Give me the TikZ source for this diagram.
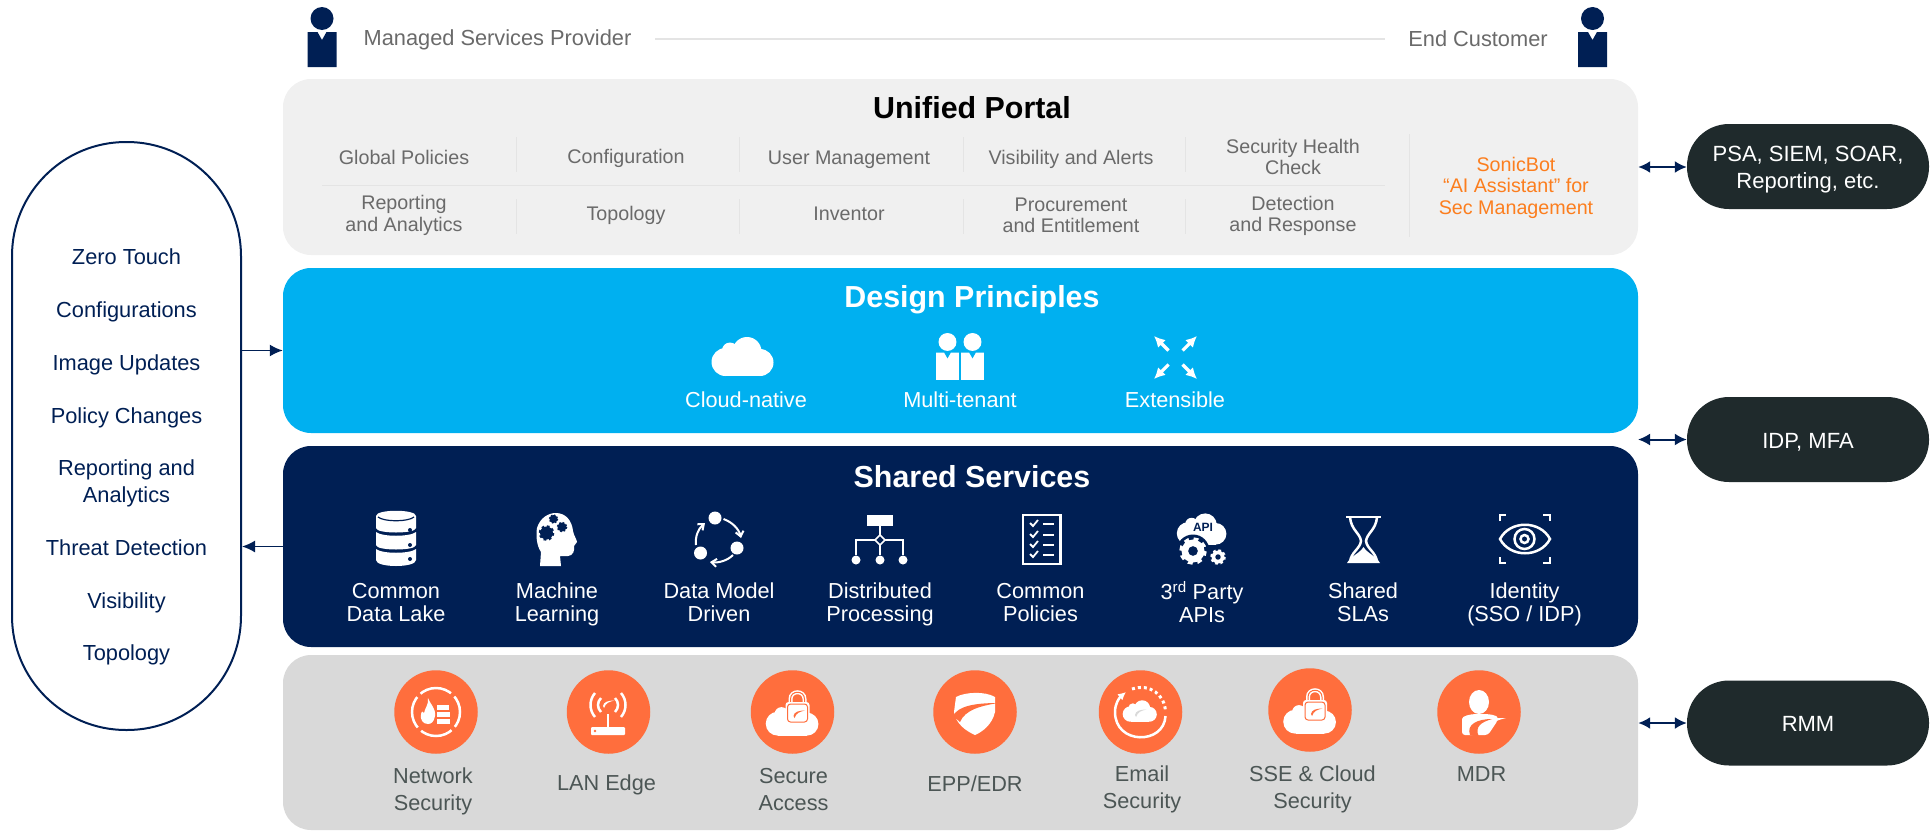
\documentclass[tikz,border=0pt]{standalone}
\usepackage{fontspec}
\setmainfont{Liberation Sans}
\usetikzlibrary{arrows.meta}
\definecolor{navy}{HTML}{001F54}
\definecolor{skyblue}{HTML}{00B0F0}
\definecolor{portalgray}{HTML}{F0F0F0}
\definecolor{edgegray}{HTML}{D9D9D9}
\definecolor{flame}{HTML}{FF6E3D}
\definecolor{pillblack}{HTML}{1F2A2C}
\definecolor{botorange}{HTML}{FC7E1E}
\definecolor{ruleline}{HTML}{E4E4E4}
\definecolor{portaltext}{HTML}{6A6A6A}
\definecolor{edgetext}{HTML}{4C5655}
% Gear: x, y, radius, colour, hole colour
\newcommand{\gearicon}[5]{
    \pgfmathsetmacro{\gearstep}{0.393*#3}
    \fill[#4] (#1,#2) circle (#3);
    \draw[#4, line width=\gearstep pt, dash pattern=on \gearstep pt off \gearstep pt] (#1,#2) circle (#3);
    \fill[#5] (#1,#2) circle (0.42*#3);
}
\begin{document}
\begin{tikzpicture}[
        x=1pt, y=-1pt,
        panel/.style={rounded corners=28pt, inner sep=0pt, minimum width=1355pt},
        pill/.style={fill=pillblack, text=white, rounded corners=42pt, inner sep=0pt, minimum width=242pt, minimum height=85pt, align=center, text height=21pt, font=\fontsize{22}{27}\selectfont},
        title/.style={inner sep=0pt, font=\fontsize{30.4}{34}\selectfont\bfseries},
        toplabel/.style={inner sep=0pt, text=portaltext, font=\fontsize{21.8}{26}\selectfont},
        item/.style={inner sep=0pt, text=portaltext, align=center, font=\fontsize{19.7}{21.5}\selectfont},
        caption/.style={inner sep=0pt, text=white, align=center, font=\fontsize{21.7}{23}\selectfont},
        product/.style={inner sep=0pt, text=edgetext, align=center, font=\fontsize{21.7}{27}\selectfont},
        task/.style={inner sep=0pt, text=navy, align=center, font=\fontsize{21.8}{26.6}\selectfont},
        badge/.style={circle, fill=flame, inner sep=0pt, minimum size=83.5pt},
        sep/.style={draw=ruleline, line width=1pt},
        link/.style={draw=navy, line width=2pt, {Latex[length=12pt,width=12pt]}-{Latex[length=12pt,width=12pt]}},
        feed/.style={draw=navy, line width=1.6pt, -{Latex[length=13pt,width=12pt]}},
        person/.pic={
            \fill[pic actions] (0,11.5) circle (11.5);
            \fill[pic actions] (-14.5,25) -- (-4.5,25) -- (0,33) -- (4.5,25) -- (14.5,25) -- (14.5,60) -- (-14.5,60) -- cycle;
        },
        cloudicon/.pic={
            \fill[pic actions] (-17.5,5.5) circle (14);
            \fill[pic actions] (17,6) circle (13.5);
            \fill[pic actions] (4,-5) circle (14.5);
            \fill[pic actions] (-13,-6) circle (8);
            \fill[pic actions] (-17,5) rectangle (17,19.5);
        },
        swoosh/.pic={
            \fill[pic actions] (-10,4) .. controls (-9,-4) and (0,-7) .. (13,-7) .. controls (3,-5) and (-5,-2) .. (-8,8) -- cycle;
        },
        lockcloud/.pic={
            \pic[fill=white, scale=0.85] at (0,7) {cloudicon};
            \draw[white, line width=4pt] (-2,-9) -- (-2,-13) .. controls (-2,-22) and (12,-22) .. (12,-13) -- (12,-9);
            \draw[flame, line width=1pt] (-2,-9) -- (-2,-13) .. controls (-2,-22) and (12,-22) .. (12,-13) -- (12,-9);
            \fill[white, rounded corners=3pt] (-7,-10) rectangle (17,12);
            \draw[flame, line width=1pt, rounded corners=3pt] (-5,-8) rectangle (15,10);
            \pic[fill=flame, scale=0.5] at (6,2) {swoosh};
        }
    ]
    \useasboundingbox (0,0) rectangle (1932,830);

    % Four stacked panels
    \node[panel, fill=portalgray, minimum height=176pt] (portal) at (960.5,167) {};
    \node[panel, fill=skyblue, minimum height=165pt] (design) at (960.5,350.5) {};
    \node[panel, fill=navy, minimum height=201pt] (shared) at (960.5,546.5) {};
    \node[panel, fill=edgegray, minimum height=175pt] (edge) at (960.5,742.5) {};

    % People and the line between them
    \pic[fill=navy] at (322,7) {person};
    \pic[fill=navy] at (1592.5,7) {person};
    \node[toplabel] (msp) at (497.5,39.5) {Managed Services Provider};
    \node[toplabel] (customer) at (1478,38.5) {End Customer};
    \coordinate (linestart) at (655,39);
    \coordinate (lineend) at (1385,39);
    \draw[draw=ruleline, line width=1.5pt] (linestart) -- (lineend);

    % Unified portal
    \node[title] (portaltitle) at (972,108) {Unified Portal};
    \node[item] (globalpol) at (404,157) {Global Policies};
    \node[item] (config) at (626,158) {Configuration};
    \node[item] (usermgmt) at (849,159.5) {User Management};
    \node[item] (visalerts) at (1071,159) {Visibility and Alerts};
    \node[item] (health) at (1293,157) {Security Health\\Check};
    \node[item] (reporting) at (404,215.5) {Reporting\\and Analytics};
    \node[item] (topology) at (626,215.5) {Topology};
    \node[item] (inventor) at (849,214) {Inventor};
    \node[item] (procure) at (1071,215.5) {Procurement\\and Entitlement};
    \node[item] (detect) at (1293,216) {Detection\\and Response};
    \node[item, text=botorange] (sonicbot) at (1516,187.5) {SonicBot\\“AI Assistant” for\\Sec Management};
    \draw[sep] (322,185) -- (1385,185);
    \draw[sep] (516,137) -- (516,172);
    \draw[sep] (739,137) -- (739,172);
    \draw[sep] (963,137) -- (963,172);
    \draw[sep] (1185,137) -- (1185,172);
    \draw[sep] (516,199) -- (516,234);
    \draw[sep] (739,199) -- (739,234);
    \draw[sep] (963,199) -- (963,234);
    \draw[sep] (1185,199) -- (1185,234);
    \draw[sep] (1409,134) -- (1409,237);

    % Design principles
    \node[title, text=white] (designtitle) at (972,299.5) {Design Principles};
    \pic[fill=white] at (743,356.5) {cloudicon};
    \pic[fill=white, scale=0.78] at (947.5,333) {person};
    \pic[fill=white, scale=0.78] at (972.5,333) {person};
    \draw[white, line width=3.2pt, -{Latex[length=11pt,width=11pt]}] (1168.5,350.5) -- (1154,336);
    \draw[white, line width=3.2pt, -{Latex[length=11pt,width=11pt]}] (1182.5,350.5) -- (1197,336);
    \draw[white, line width=3.2pt, -{Latex[length=11pt,width=11pt]}] (1168.5,364.5) -- (1154,379);
    \draw[white, line width=3.2pt, -{Latex[length=11pt,width=11pt]}] (1182.5,364.5) -- (1197,379);
    \node[caption] (cloudnative) at (746,400) {Cloud-native};
    \node[caption] (multitenant) at (960,400) {Multi-tenant};
    \node[caption] (extensible) at (1175,400) {Extensible};

    % Shared services
    \node[title, text=white] (sharedtitle) at (972,477) {Shared Services};
    \node[caption] (datalake) at (396,602.5) {Common\\Data Lake};
    \node[caption] (machine) at (557,604.5) {Machine\\Learning};
    \node[caption] (datamodel) at (719,602.5) {Data Model\\Driven};
    \node[caption] (distributed) at (880,604.5) {Distributed\\Processing};
    \node[caption] (commonpol) at (1040.5,602.5) {Common\\Policies};
    \node[caption] (apis) at (1202,602) {3\textsuperscript{rd} Party\\APIs};
    \node[caption] (slas) at (1363,602.5) {Shared\\SLAs};
    \node[caption] (identity) at (1524.5,604.5) {Identity\\(SSO / IDP)};

    % Database icon
    \fill[white] (376,516) .. controls (376,509) and (416,509) .. (416,516) -- (416,528) .. controls (416,534) and (376,534) .. (376,528) -- cycle;
    \fill[white] (376,532) .. controls (382,537) and (410,537) .. (416,532) -- (416,545) .. controls (416,551) and (376,551) .. (376,545) -- cycle;
    \fill[white] (376,549) .. controls (382,554) and (410,554) .. (416,549) -- (416,560) .. controls (416,568) and (376,568) .. (376,560) -- cycle;
    \fill[navy] (410,530) circle (2);
    \fill[navy] (410,545) circle (2);
    \fill[navy] (410,559) circle (2);
    \draw[navy, line width=1.2pt] (378,517) .. controls (384,522) and (408,522) .. (414,517);

    % Machine learning head
    \fill[white] (540,566) -- (541,552) .. controls (536,545) and (536,533) .. (537,528) .. controls (540,518) and (548,513) .. (556,513) .. controls (566,513) and (572,521) .. (573,531) .. controls (574,536) and (577,540) .. (577,542) .. controls (577,544) and (574,544) .. (574,546) .. controls (575,550) and (573,556) .. (568,556) -- (560,556) -- (561,566) -- cycle;
    \gearicon{546.5}{533}{6.5}{navy}{navy}
    \gearicon{553.5}{519}{4}{navy}{navy}
    \gearicon{562}{527}{4.5}{navy}{navy}

    % Data model cycle
    \fill[white] (715,518) circle (6.5);
    \fill[white] (737,548) circle (6.5);
    \fill[white] (700.5,553) circle (6.5);
    \draw[white, line width=2pt, -{Straight Barb[length=5pt,width=8pt]}] (723.5,519) .. controls (732,522) and (739,529) .. (741,538);
    \draw[white, line width=2pt, -{Straight Barb[length=5pt,width=8pt]}] (733,555) .. controls (727,561) and (718,563) .. (710,562);
    \draw[white, line width=2pt, -{Straight Barb[length=5pt,width=8pt]}] (696,545) .. controls (695,537) and (698,529) .. (705,523);

    % Distributed tree
    \fill[white] (867,515) rectangle (893,526);
    \draw[white, line width=2pt] (880,526) -- (880,555);
    \draw[white, line width=2pt] (856,555) -- (856,540) -- (903,540) -- (903,555);
    \draw[white, fill=navy, line width=1.5pt] (880,535) -- (885,540) -- (880,545) -- (875,540) -- cycle;
    \fill[white] (856,560) circle (4.5);
    \fill[white] (880,560) circle (4.5);
    \fill[white] (903,560) circle (4.5);

    % Checklist
    \draw[white, line width=2.5pt] (1023,515) rectangle (1060.5,564);
    \draw[white, line width=1.8pt] (1030,523) -- (1033,526) -- (1038,520);
    \draw[white, line width=1.8pt] (1030,534) -- (1033,537) -- (1038,531);
    \draw[white, line width=1.8pt] (1030,544) -- (1033,547) -- (1038,541);
    \draw[white, line width=1.8pt] (1030,554) -- (1033,557) -- (1038,551);
    \draw[white, line width=2pt] (1043,524) -- (1054,524);
    \draw[white, line width=2pt] (1043,535) -- (1054,535);
    \draw[white, line width=2pt] (1043,545) -- (1054,545);
    \draw[white, line width=2pt] (1043,555) -- (1054,555);

    % API cloud and gears
    \pic[fill=white, scale=0.8] at (1202,529) {cloudicon};
    \node[inner sep=0pt, text=navy, font=\fontsize{12}{12}\selectfont\bfseries] (apitag) at (1203,527) {API};
    \fill[navy] (1193,551) circle (16.5);
    \fill[navy] (1218,557) circle (10);
    \gearicon{1193}{551}{11.5}{white}{navy}
    \gearicon{1218}{557}{6.5}{white}{navy}

    % Hourglass
    \draw[white, line width=2pt] (1346,517) -- (1381,517);
    \draw[white, line width=2.5pt] (1350,517) .. controls (1351,530) and (1360,533) .. (1361,541) .. controls (1360,549) and (1351,552) .. (1350,562);
    \draw[white, line width=2.5pt] (1377,517) .. controls (1376,530) and (1367,533) .. (1366,541) .. controls (1367,549) and (1376,552) .. (1377,562);
    \fill[white] (1363.5,547) .. controls (1360,553) and (1351,556) .. (1347,563) -- (1380,563) .. controls (1376,556) and (1367,553) .. (1363.5,547) -- cycle;

    % Eye in a frame
    \draw[white, line width=2pt] (1499.5,521) -- (1499.5,515) -- (1506,515);
    \draw[white, line width=2pt] (1543,515) -- (1549.5,515) -- (1549.5,521);
    \draw[white, line width=2pt] (1499.5,557) -- (1499.5,563) -- (1506,563);
    \draw[white, line width=2pt] (1543,563) -- (1549.5,563) -- (1549.5,557);
    \draw[white, line width=2.5pt] (1500,539) .. controls (1510,520) and (1540,520) .. (1550,539) .. controls (1540,558) and (1510,558) .. (1500,539) -- cycle;
    \draw[white, line width=2.5pt] (1524.5,539) circle (10);
    \draw[white, line width=2.5pt] (1524.5,539) circle (4);

    % Edge products
    \node[badge] (network) at (436,712) {};
    \node[badge] (lanedge) at (608.5,712) {};
    \node[badge] (secure) at (792.5,712) {};
    \node[badge] (epp) at (975,712) {};
    \node[badge] (email) at (1140.5,712) {};
    \node[badge] (sse) at (1310,710) {};
    \node[badge] (mdr) at (1479,712) {};
    \node[product] (networklabel) at (433,791) {Network\\Security};
    \node[product] (lanlabel) at (606.5,785) {LAN Edge};
    \node[product] (securelabel) at (793.5,789.5) {Secure\\Access};
    \node[product] (epplabel) at (975,784) {EPP/EDR};
    \node[product] (emaillabel) at (1142,789) {Email\\Security};
    \node[product] (sselabel) at (1312.5,789) {SSE \& Cloud\\Security};
    \node[product] (mdrlabel) at (1481.5,774.5) {MDR};

    % Network security icon
    \draw[white, line width=2.5pt, dash pattern=on 33pt off 4.7pt, dash phase=17pt] (436,712) circle (24);
    \fill[white] (428,698) .. controls (430,704) and (436,708) .. (435,716) .. controls (434,722) and (431,724) .. (428,724) .. controls (423,724) and (420,720) .. (421,714) .. controls (422,710) and (423,712) .. (424,713) .. controls (425,708) and (429,704) .. (428,698) -- cycle;
    \fill[white] (437,705) rectangle (449,710);
    \fill[white] (437,712) rectangle (450,717);
    \fill[white] (437,719) rectangle (450,724);

    % LAN edge icon
    \fill[white, rounded corners=1pt] (591,727) rectangle (625,735);
    \fill[flame] (595,731) circle (1.4);
    \draw[white, line width=2.5pt] (608,727) -- (608,714);
    \draw[white, line width=2.5pt] (595,693) .. controls (589,700) and (589,710) .. (595,717);
    \draw[white, line width=2.5pt] (621,693) .. controls (627,700) and (627,710) .. (621,717);
    \draw[white, line width=2.5pt] (601,698) .. controls (597,702) and (597,708) .. (601,712);
    \draw[white, line width=2.5pt] (615,698) .. controls (619,702) and (619,708) .. (615,712);
    \pic[fill=white, scale=0.5] at (608,704) {swoosh};

    % Lock clouds
    \pic at (792.5,712) {lockcloud};
    \pic at (1310,710) {lockcloud};

    % Shield
    \fill[white] (956,697) .. controls (965,692) and (985,691) .. (995,697) -- (995,712) .. controls (992,725) and (982,732) .. (975,735) .. controls (966,731) and (956,724) .. (954,712) -- cycle;
    \fill[flame] (953,716) .. controls (958,706) and (975,703) .. (998,703) .. controls (980,706) and (965,710) .. (960,722) -- cycle;

    % Email icon
    \draw[white, line width=2.5pt, -{Latex[length=8pt,width=8pt]}] (1165.5,716) .. controls (1164,745) and (1115,745) .. (1115,712) .. controls (1115,704) and (1119,698) .. (1126,692);
    \draw[white, line width=3pt, dash pattern=on 3pt off 3pt] (1132,689) .. controls (1150,683) and (1165,695) .. (1165.5,712);
    \pic[fill=white, scale=0.55] at (1140,711) {cloudicon};
    \pic[fill=edgegray, scale=0.5] at (1140,713) {swoosh};

    % Analyst icon
    \fill[white] (1479,702) ellipse (10 and 12);
    \fill[white, rounded corners=3pt] (1462,735) -- (1462,722) .. controls (1462,716) and (1470,714) .. (1480,714) .. controls (1492,714) and (1497,716) .. (1498,720) -- (1488,735) -- cycle;
    \fill[white] (1480,722) .. controls (1487,718) and (1497,718) .. (1506,718) .. controls (1497,720) and (1490,724) .. (1484,726) -- cycle;
    \fill[flame] (1470,735) .. controls (1466,724) and (1478,719) .. (1492,719) .. controls (1482,722) and (1474,726) .. (1479,737) -- cycle;

    % Left list
    \node[draw=navy, line width=2pt, rounded corners=114pt, inner sep=0pt, minimum width=229pt, minimum height=588pt] (operations) at (126.5,436) {};
    \node[task] (zerotouch) at (126.5,256.5) {Zero Touch};
    \node[task] (configs) at (126.5,311.5) {Configurations};
    \node[task] (images) at (126.5,364.5) {Image Updates};
    \node[task] (policychanges) at (126.5,417.5) {Policy Changes};
    \node[task] (analytics) at (126.5,483.5) {Reporting and\\Analytics};
    \node[task] (threat) at (126.5,547.5) {Threat Detection};
    \node[task] (visibility) at (126.5,602.5) {Visibility};
    \node[task] (topo) at (126.5,654.5) {Topology};

    % Right pills
    \node[pill, text height=48.6pt] (psa) at (1808,166.5) {PSA, SIEM, SOAR,\\Reporting, etc.};
    \node[pill] (idp) at (1808,439.5) {IDP, MFA};
    \node[pill, text height=16pt] (rmm) at (1808,723) {RMM};
    \coordinate (idpend) at (1638,439.5);

    % Arrows
    \draw[feed] (operations.east |- design.west) -- (design.west);
    \draw[feed] (shared.west) -- (operations.east |- shared.west);
    \draw[link] (portal.east) -- (psa.west |- portal.east);
    \draw[link] (idpend) -- (idp.west);
    \draw[link] (edge.east |- rmm.west) -- (rmm.west);
\end{tikzpicture}
\end{document}
